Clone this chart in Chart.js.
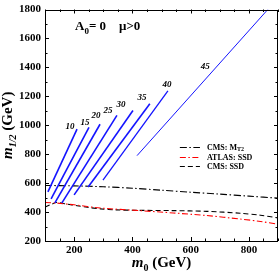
<!DOCTYPE html>
<html>
<head>
<meta charset="utf-8">
<script src="https://cdn.jsdelivr.net/npm/chart.js@4/dist/chart.umd.min.js"></script>
<style>
  html, body { margin: 0; padding: 0; background: #fff; }
  #wrap { width: 279px; height: 274px; }
</style>
</head>
<body>
<div id="wrap"><canvas id="chart" width="279" height="274"></canvas></div>
<script>
// tan(beta) contours, straight segments (m0, m1/2 in GeV)
const tanBeta = [10, 15, 20, 25, 30, 35, 40, 45];
const tbLowM0 = [110, 121, 134, 158, 200, 248, 299, 416];
const tbLowM12 = [539, 492, 464, 464, 519, 573, 620, 790];
const tbHighM0 = [210, 251, 289, 347, 402, 460, 522, 865];
const tbHighM12 = [973, 986, 1007, 1068, 1102, 1149, 1237, 1800];
const tbLabelM0 = [186, 237, 275, 316, 361, 433, 519, 650];
const tbLabelM12 = [993, 1020, 1068, 1102, 1142, 1190, 1278, 1406];

// exclusion limits
const mt2M0 = [100, 200, 300, 400, 500, 600, 700, 800, 900];
const mt2M12 = [584, 581, 575, 565, 551, 537, 524, 510, 496];

const atlasM0 = [100, 140, 200, 290, 426, 540, 655, 770, 840, 900];
const atlasM12 = [466, 462, 450, 428, 410, 394, 376, 352, 335, 316];

const ssdM0 = [100, 120, 140, 175, 210, 245, 290, 345, 426, 540, 655, 770, 840, 900];
const ssdM12 = [434, 452, 466, 455, 444, 433, 422, 415, 412, 410, 405, 392, 378, 360];

// axis ticks
const m0Ticks = [200, 400, 600, 800];
const m12Ticks = [200, 400, 600, 800, 1000, 1200, 1400, 1600, 1800];

const serif = '"Liberation Serif", "Times New Roman", serif';
const blue = "#1414ff";

function pts(xs, ys) {
    return xs.map(function (v, i) { return { x: v, y: ys[i] }; });
}

let datasets = [];
tanBeta.forEach(function (tb, i) {
    datasets.push({
        label: "tanb " + tb,
        data: [{ x: tbLowM0[i], y: tbLowM12[i] }, { x: tbHighM0[i], y: tbHighM12[i] }],
        borderColor: blue,
        borderWidth: i < 6 ? 1.6 : (i == 6 ? 1.3 : 1),
        showLine: true, pointRadius: 0
    });
});

const limits = [
    { name: [["CMS: M", 8, "bold"], ["T2", 6, "bold", 2]], xs: mt2M0, ys: mt2M12, color: "#000", dash: [7, 2.5, 1.5, 2.5] },
    { name: [["ATLAS: SSD", 8, "bold"]], xs: atlasM0, ys: atlasM12, color: "#ff0000", dash: [6, 2.5, 1.5, 2.5] },
    { name: [["CMS: SSD", 8, "bold"]], xs: ssdM0, ys: ssdM12, color: "#000", dash: [5, 3] }
];
limits.forEach(function (l) {
    datasets.push({
        label: l.name[0][0],
        data: pts(l.xs, l.ys),
        borderColor: l.color, borderWidth: 1.1, borderDash: l.dash,
        showLine: true, pointRadius: 0, tension: 0.3
    });
});

// draws a run of text pieces: [text, size, style, dy]
function drawRich(ctx, parts, x, y, align) {
    let w = 0;
    parts.forEach(function (p) {
        ctx.font = p[2] + " " + p[1] + "px " + serif;
        w += ctx.measureText(p[0]).width;
    });
    let cx = align == "center" ? x - w / 2 : x;
    parts.forEach(function (p) {
        ctx.font = p[2] + " " + p[1] + "px " + serif;
        ctx.fillText(p[0], cx, y + (p[3] || 0));
        cx += ctx.measureText(p[0]).width;
    });
}

const decor = {
    id: "decor",
    afterDraw: function (chart) {
        const ctx = chart.ctx, a = chart.chartArea;
        const x = chart.scales.x, y = chart.scales.y;
        ctx.save();
        ctx.strokeStyle = "#000";
        ctx.fillStyle = "#000";
        ctx.lineWidth = 1;
        ctx.setLineDash([]);

        // frame
        ctx.strokeRect(Math.round(a.left) + 0.5, Math.round(a.top) + 0.5,
            Math.round(a.right - a.left) - 1, Math.round(a.bottom - a.top) - 1);

        // inward ticks on all four sides
        ctx.beginPath();
        for (let v = 100; v <= 900; v += 50) {
            const px = Math.round(x.getPixelForValue(v)) + 0.5;
            const len = v % 200 == 0 ? 4 : 2.5;
            ctx.moveTo(px, a.bottom); ctx.lineTo(px, a.bottom - len);
            ctx.moveTo(px, a.top); ctx.lineTo(px, a.top + len);
        }
        for (let v = 200; v <= 1800; v += 100) {
            const py = Math.round(y.getPixelForValue(v)) + 0.5;
            const len = v % 200 == 0 ? 4 : 2.5;
            ctx.moveTo(a.left, py); ctx.lineTo(a.left + len, py);
            ctx.moveTo(a.right, py); ctx.lineTo(a.right - len, py);
        }
        ctx.stroke();

        // tan(beta) labels
        ctx.textBaseline = "middle";
        ctx.textAlign = "left";
        tanBeta.forEach(function (tb, i) {
            drawRich(ctx, [[String(tb), 9, "italic bold"]],
                x.getPixelForValue(tbLabelM0[i]), y.getPixelForValue(tbLabelM12[i]), "center");
        });

        // A0 = 0, mu > 0
        ctx.textBaseline = "alphabetic";
        drawRich(ctx, [["A", 13, "bold"], ["0", 9, "bold", 4], ["= 0", 13, "bold"], ["\u2003\u03bc>0", 13, "bold"]],
            x.getPixelForValue(203), y.getPixelForValue(1660), "left");

        // legend
        limits.forEach(function (l, i) {
            const ly = Math.round(y.getPixelForValue(851 - 68 * i)) + 0.5;
            ctx.strokeStyle = l.color;
            ctx.lineWidth = 1.1;
            ctx.setLineDash(l.dash);
            ctx.beginPath();
            ctx.moveTo(x.getPixelForValue(563), ly);
            ctx.lineTo(x.getPixelForValue(632), ly);
            ctx.stroke();
            ctx.textBaseline = "middle";
            drawRich(ctx, l.name, x.getPixelForValue(656), ly, "left");
        });

        // axis titles
        ctx.textBaseline = "alphabetic";
        drawRich(ctx, [["m", 15, "italic bold"], ["0", 10, "bold", 4], [" (GeV)", 15, "bold"]],
            (a.left + a.right) / 2, 267, "center");
        ctx.translate(12, (a.top + a.bottom) / 2);
        ctx.rotate(-Math.PI / 2);
        drawRich(ctx, [["m", 15, "italic bold"], ["1/2", 10, "italic bold", 4], [" (GeV)", 15, "bold"]],
            0, 0, "center");
        ctx.restore();
    }
};

const tickFont = { family: serif, size: 11, weight: "bold", lineHeight: 1 };
const plain = function (v) { return String(v); };

new Chart(document.getElementById("chart"), {
    type: "scatter",
    data: { datasets: datasets },
    options: {
        responsive: false,
        animation: false,
        layout: { padding: { left: 0, top: 5, right: 1, bottom: 0 } },
        plugins: { legend: { display: false }, tooltip: { enabled: false } },
        scales: {
            x: {
                type: "linear", min: 100, max: 900,
                afterBuildTicks: function (s) { s.ticks = m0Ticks.map(function (v) { return { value: v }; }); },
                afterFit: function (s) { s.height = 33; },
                ticks: { font: tickFont, color: "#000", padding: 4, maxRotation: 0, callback: plain },
                grid: { display: false, drawTicks: false }, border: { display: false }
            },
            y: {
                type: "linear", min: 200, max: 1800,
                afterBuildTicks: function (s) { s.ticks = m12Ticks.map(function (v) { return { value: v }; }); },
                afterFit: function (s) { s.width = 45; },
                ticks: { font: tickFont, color: "#000", padding: 4, callback: plain },
                grid: { display: false, drawTicks: false }, border: { display: false }
            }
        }
    },
    plugins: [decor]
});
</script>
</body>
</html>
